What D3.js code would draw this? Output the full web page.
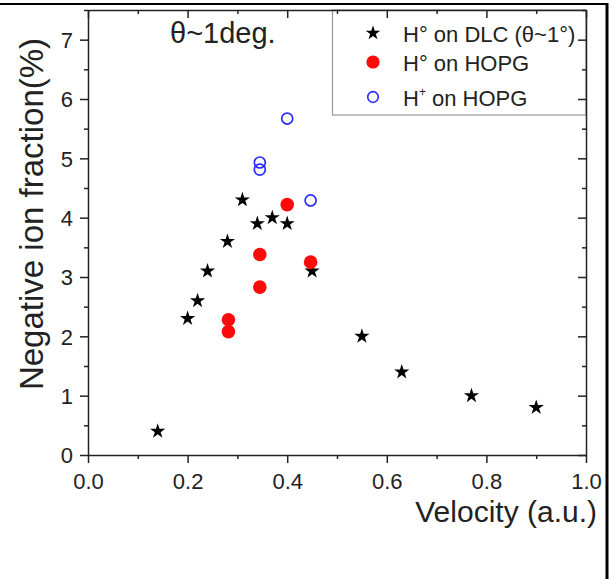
<!DOCTYPE html>
<html>
<head>
<meta charset="utf-8">
<script src="https://cdn.jsdelivr.net/npm/d3@7/dist/d3.min.js"></script>
<style>
  html, body { margin: 0; padding: 0; background: #fff; }
  svg { display: block; font-family: "Liberation Sans", Arial, sans-serif; }
</style>
</head>
<body>
<svg id="chart" width="611" height="579"></svg>
<script>
// ---- data ----
const dlcVelocity = [0.14, 0.20, 0.22, 0.24, 0.28, 0.31, 0.34, 0.37, 0.40, 0.45, 0.55, 0.63, 0.77, 0.90];
const dlcFraction = [0.40, 2.30, 2.60, 3.10, 3.60, 4.30, 3.90, 4.00, 3.90, 3.10, 2.00, 1.40, 1.00, 0.80];

const hopgH0Velocity = [0.282, 0.282, 0.345, 0.345, 0.40, 0.447];
const hopgH0Fraction = [2.28, 2.08, 3.38, 2.83, 4.22, 3.25];

const hopgHpVelocity = [0.345, 0.345, 0.40, 0.447];
const hopgHpFraction = [4.93, 4.81, 5.67, 4.29];

const xMajorTicks = [0.0, 0.2, 0.4, 0.6, 0.8, 1.0];
const xMinorTicks = [0.1, 0.3, 0.5, 0.7, 0.9];
const yMajorTicks = [0, 1, 2, 3, 4, 5, 6, 7];
const yMinorTicks = [0.5, 1.5, 2.5, 3.5, 4.5, 5.5, 6.5, 7.5];

const legendLabels = ["H° on DLC (θ~1°)", "H° on HOPG", "H+ on HOPG"];
const titleText = "θ~1deg.";
const xLabel = "Velocity (a.u.)";
const yLabel = "Negative ion fraction(%)";

// ---- layout ----
const svg = d3.select("#chart");
const pLeft = 88, pRight = 586, pTop = 10, pBottom = 455;
const x = d3.scaleLinear().domain([0, 1]).range([pLeft, pRight]);
const y = d3.scaleLinear().domain([0, 7.5]).range([pBottom, pTop]);
const axisColor = "#222";
const fontFam = '"Liberation Sans", Arial, sans-serif';

// outer frame lines of the picture
svg.append("line").attr("x1", 0).attr("x2", 608).attr("y1", 4).attr("y2", 4)
  .attr("stroke", "#000").attr("stroke-width", 2);
svg.append("line").attr("x1", 607).attr("x2", 607).attr("y1", 3).attr("y2", 579)
  .attr("stroke", "#000").attr("stroke-width", 3);

// legend box (behind axes)
svg.append("rect").attr("x", 332.5).attr("y", pTop).attr("width", pRight - 332.5).attr("height", 105)
  .attr("fill", "#fff").attr("stroke", "#999").attr("stroke-width", 1.2);

function styleAxis(g) {
  g.selectAll("path.domain").attr("stroke", axisColor).attr("stroke-width", 1.5);
  g.selectAll(".tick line").attr("stroke", axisColor).attr("stroke-width", 1.5);
}

// bottom axis
const gb = svg.append("g").attr("transform", `translate(0,${pBottom})`)
  .call(d3.axisBottom(x).tickValues(xMajorTicks).tickSize(8).tickSizeOuter(0).tickFormat(d3.format(".1f")));
styleAxis(gb);
gb.selectAll("text").attr("y", 0).attr("dy", 34).attr("font-size", 22).attr("font-family", fontFam).attr("fill", "#222");
const gbm = svg.append("g").attr("transform", `translate(0,${pBottom})`)
  .call(d3.axisBottom(x).tickValues(xMinorTicks).tickSize(4).tickSizeOuter(0).tickFormat(""));
styleAxis(gbm); gbm.select("path.domain").remove();

// top axis (ticks pointing down, inside)
const gt = svg.append("g").attr("transform", `translate(0,${pTop})`)
  .call(d3.axisBottom(x).tickValues(xMajorTicks).tickSize(8).tickSizeOuter(0).tickFormat(""));
styleAxis(gt);
const gtm = svg.append("g").attr("transform", `translate(0,${pTop})`)
  .call(d3.axisBottom(x).tickValues(xMinorTicks).tickSize(4).tickSizeOuter(0).tickFormat(""));
styleAxis(gtm); gtm.select("path.domain").remove();

// left axis
const gl = svg.append("g").attr("transform", `translate(${pLeft},0)`)
  .call(d3.axisLeft(y).tickValues(yMajorTicks).tickSize(8).tickSizeOuter(0).tickFormat(d3.format("d")).tickPadding(7));
styleAxis(gl);
gl.selectAll("text").attr("font-size", 22).attr("font-family", fontFam).attr("fill", "#222").attr("dy", "0.36em");
const glm = svg.append("g").attr("transform", `translate(${pLeft},0)`)
  .call(d3.axisLeft(y).tickValues(yMinorTicks).tickSize(4).tickSizeOuter(0).tickFormat(""));
styleAxis(glm); glm.select("path.domain").remove();

// right axis (ticks pointing left, inside)
const gr = svg.append("g").attr("transform", `translate(${pRight},0)`)
  .call(d3.axisLeft(y).tickValues(yMajorTicks).tickSize(8).tickSizeOuter(0).tickFormat(""));
styleAxis(gr);
const grm = svg.append("g").attr("transform", `translate(${pRight},0)`)
  .call(d3.axisLeft(y).tickValues(yMinorTicks).tickSize(4).tickSizeOuter(0).tickFormat(""));
styleAxis(grm); grm.select("path.domain").remove();

// ---- marks ----
const star = d3.symbol().type(d3.symbolStar).size(72);
const dlcData = dlcVelocity.map((v, i) => [v, dlcFraction[i]]);
svg.append("g").selectAll("path").data(dlcData).join("path")
  .attr("d", star).attr("transform", d => `translate(${x(d[0])},${y(d[1])})`)
  .attr("fill", "#000");

const h0Data = hopgH0Velocity.map((v, i) => [v, hopgH0Fraction[i]]);
svg.append("g").selectAll("circle").data(h0Data).join("circle")
  .attr("cx", d => x(d[0])).attr("cy", d => y(d[1])).attr("r", 6.8)
  .attr("fill", "#ff0a0a");

const hpData = hopgHpVelocity.map((v, i) => [v, hopgHpFraction[i]]);
svg.append("g").selectAll("circle").data(hpData).join("circle")
  .attr("cx", d => x(d[0])).attr("cy", d => y(d[1])).attr("r", 5.5)
  .attr("fill", "none").attr("stroke", "#2b2bff").attr("stroke-width", 1.7);

// ---- legend ----
const lg = svg.append("g").attr("font-family", fontFam).attr("font-size", 22).attr("fill", "#222");
const markerX = 373, textX = 403;
const rowY = [33, 62, 97];
lg.append("path").attr("d", d3.symbol().type(d3.symbolStar).size(66)).attr("transform", `translate(${markerX},${rowY[0]})`).attr("fill", "#000");
lg.append("circle").attr("cx", markerX).attr("cy", rowY[1]).attr("r", 6.6).attr("fill", "#ff0a0a");
lg.append("circle").attr("cx", markerX).attr("cy", rowY[2]).attr("r", 5.3).attr("fill", "none").attr("stroke", "#2b2bff").attr("stroke-width", 1.7);
lg.append("text").attr("x", textX).attr("y", rowY[0] + 8.5).text(legendLabels[0]);
lg.append("text").attr("x", textX).attr("y", rowY[1] + 8.5).text(legendLabels[1]);
const t3 = lg.append("text").attr("x", textX).attr("y", rowY[2] + 8.5);
t3.append("tspan").text("H");
t3.append("tspan").attr("font-size", 12).attr("dy", -10).text("+");
t3.append("tspan").attr("dy", 10).text(" on HOPG");

// ---- titles ----
svg.append("text").attr("x", 170).attr("y", 43).attr("font-family", fontFam).attr("font-size", 29)
  .attr("fill", "#222").text(titleText);
svg.append("text").attr("x", 597).attr("y", 522).attr("text-anchor", "end").attr("font-family", fontFam)
  .attr("font-size", 30).attr("fill", "#222").text(xLabel);
svg.append("text").attr("transform", "translate(43,214) rotate(-90)").attr("text-anchor", "middle")
  .attr("font-family", fontFam).attr("font-size", 33).attr("fill", "#222").text(yLabel);
</script>
</body>
</html>
